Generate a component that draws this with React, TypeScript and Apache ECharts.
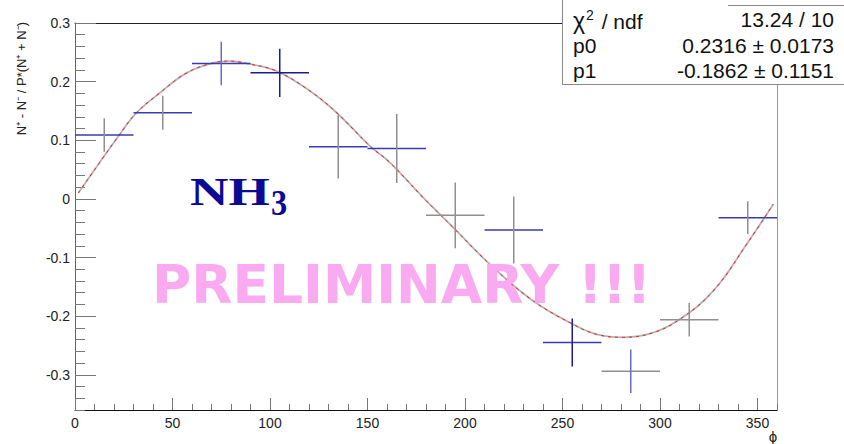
import React, { useEffect, useRef } from 'react';
import * as echarts from 'echarts';

// ---- data ----
const PHI = [15, 45, 75, 105, 135, 165, 195, 225, 255, 285, 315, 345];
const ASYM = [0.109, 0.147, 0.231, 0.215, 0.089, 0.086, -0.028, -0.053, -0.245, -0.294, -0.206, -0.032];
const ASYM_ERR = [0.0285, 0.029, 0.037, 0.041, 0.054, 0.059, 0.056, 0.057, 0.041, 0.037, 0.0286, 0.028];
const BIN_HALF_WIDTH = 15;

const FIT_PHI = [1.7, 22.7, 31.6, 43.6, 57.3, 70.9, 79.5, 88, 103.4, 120.5, 134.2, 151.3, 161.5, 178.6, 194, 214.5, 235, 255.5, 267.5, 281.2, 296.6, 310.3, 327.3, 344.5, 358.1];
const FIT_VAL = [0.010, 0.109, 0.147, 0.181, 0.215, 0.232, 0.235, 0.231, 0.218, 0.184, 0.147, 0.090, 0.062, 0.002, -0.049, -0.117, -0.174, -0.214, -0.231, -0.236, -0.228, -0.205, -0.157, -0.077, -0.009];

const X_MAJOR = [0, 50, 100, 150, 200, 250, 300, 350];
const X_MINOR = [10, 20, 30, 40, 60, 70, 80, 90, 110, 120, 130, 140, 160, 170, 180, 190, 210, 220, 230, 240, 260, 270, 280, 290, 310, 320, 330, 340, 360];
const Y_MAJOR = [-0.3, -0.2, -0.1, 0, 0.1, 0.2, 0.3];
const Y_MINOR = [-0.36, -0.34, -0.32, -0.28, -0.26, -0.24, -0.22, -0.18, -0.16, -0.14, -0.12, -0.08, -0.06, -0.04, -0.02, 0.02, 0.04, 0.06, 0.08, 0.12, 0.14, 0.16, 0.18, 0.22, 0.24, 0.26, 0.28];

const STAT_LABELS = ['{c|χ}{s|2}{t| / ndf}', 'p0', 'p1'];
const STAT_VALUES = ['13.24 / 10', '0.2316 ± 0.0173', '-0.1862 ± 0.1151'];

// ---- styles ----
const B = '#3a3ab4';
const N = '#1c1c8e';
const G = '#8f8f8f';
const LB = '#6a6ac8';
const H_COLORS = [B, B, B, N, B, B, G, B, B, G, G, B];
const V_COLORS = [G, G, LB, N, G, G, G, G, N, LB, G, G];
const SANS = 'Liberation Sans, Arial, sans-serif';

export default function App() {
  const ref = useRef<HTMLDivElement>(null);
  useEffect(() => {
    const chart = echarts.init(ref.current!, undefined, { renderer: 'svg' });
    const errData = PHI.map((p, i) => [p, ASYM[i], ASYM_ERR[i]]);
    const fitData = FIT_PHI.map((p, i) => [p, FIT_VAL[i]]);
    const statRowsY = [19, 45, 70];
    const statFont = { fontSize: 21, fontFamily: SANS, fill: '#111' };
    const option: any = {
      animation: false,
      backgroundColor: '#ffffff',
      grid: { left: 75, right: 67, top: 23, bottom: 34, outerBoundsMode: 'none', containLabel: false },
      xAxis: [
        {
          type: 'value', min: 0, max: 360, position: 'bottom',
          axisLine: { show: true, onZero: false, lineStyle: { color: '#111', width: 1 } },
          axisTick: { show: true, inside: true, length: 12, customValues: X_MAJOR, lineStyle: { color: '#777' } },
          axisLabel: { show: true, customValues: X_MAJOR, margin: 6, fontSize: 14, color: '#222', fontFamily: SANS },
          splitLine: { show: false },
        },
        {
          type: 'value', min: 0, max: 360, position: 'bottom',
          axisLine: { show: false, onZero: false },
          axisTick: { show: true, inside: true, length: 6, customValues: X_MINOR, lineStyle: { color: '#777' } },
          axisLabel: { show: false },
          splitLine: { show: false },
        },
        {
          type: 'value', min: 0, max: 360, position: 'top',
          axisLine: { show: true, onZero: false, lineStyle: { color: '#222', width: 1 } },
          axisTick: { show: false }, axisLabel: { show: false }, splitLine: { show: false },
        },
      ],
      yAxis: [
        {
          type: 'value', min: -0.36, max: 0.3, position: 'left',
          axisLine: { show: true, onZero: false, lineStyle: { color: '#666', width: 1 } },
          axisTick: { show: true, inside: true, length: 21, customValues: Y_MAJOR, lineStyle: { color: '#777' } },
          axisLabel: {
            show: true, customValues: Y_MAJOR, margin: 5, fontSize: 14, color: '#222', fontFamily: SANS,
            formatter: (v: number) => { const r = Math.round(v * 10) / 10; return r === 0 ? '0' : String(r); },
          },
          splitLine: { show: false },
        },
        {
          type: 'value', min: -0.36, max: 0.3, position: 'left',
          axisLine: { show: false, onZero: false },
          axisTick: { show: true, inside: true, length: 10, customValues: Y_MINOR, lineStyle: { color: '#777' } },
          axisLabel: { show: false }, splitLine: { show: false },
        },
        {
          type: 'value', min: -0.36, max: 0.3, position: 'right',
          axisLine: { show: true, onZero: false, lineStyle: { color: '#999', width: 1 } },
          axisTick: { show: false }, axisLabel: { show: false }, splitLine: { show: false },
        },
      ],
      series: [
        {
          type: 'line', data: fitData, smooth: 0.4, showSymbol: false, xAxisIndex: 0, yAxisIndex: 0,
          lineStyle: { color: '#b4b4b4', width: 1.8 }, z: 2, silent: true,
        },
        {
          type: 'line', data: fitData, smooth: 0.4, showSymbol: false, xAxisIndex: 0, yAxisIndex: 0,
          lineStyle: { color: '#ff1a1a', width: 1, type: [3, 4] }, z: 3, silent: true,
        },
        {
          type: 'custom', xAxisIndex: 0, yAxisIndex: 0, data: errData, encode: { x: 0, y: 1 }, z: 4, silent: true,
          renderItem: (params: any, api: any) => {
            const x = api.value(0), y = api.value(1), e = api.value(2);
            const l = api.coord([x - BIN_HALF_WIDTH, y]);
            const r = api.coord([x + BIN_HALF_WIDTH, y]);
            const t = api.coord([x, y + e]);
            const b = api.coord([x, y - e]);
            const i = params.dataIndex;
            return {
              type: 'group',
              children: [
                { type: 'line', shape: { x1: l[0], y1: l[1], x2: r[0], y2: r[1] }, style: { stroke: H_COLORS[i], lineWidth: 1.5 } },
                { type: 'line', shape: { x1: t[0], y1: t[1], x2: b[0], y2: b[1] }, style: { stroke: V_COLORS[i], lineWidth: 1.5 } },
              ],
            };
          },
        },
      ],
      graphic: [
        // stats box
        { type: 'rect', z: 100, shape: { x: 562, y: 0, width: 290, height: 85 }, style: { fill: '#fff', stroke: null } },
        { type: 'line', z: 101, shape: { x1: 562.5, y1: 0, x2: 562.5, y2: 85 }, style: { stroke: '#8a8a8a', lineWidth: 1 } },
        { type: 'line', z: 101, shape: { x1: 562, y1: 84.5, x2: 844, y2: 84.5 }, style: { stroke: '#8a8a8a', lineWidth: 1 } },
        { type: 'line', z: 101, shape: { x1: 728, y1: 5.5, x2: 844, y2: 5.5 }, style: { stroke: '#8a8a8a', lineWidth: 1 } },
        ...STAT_LABELS.map((s, i) => ({
          type: 'text', z: 102, x: 573, y: statRowsY[i],
          style: {
            text: s, ...statFont, align: 'left', verticalAlign: 'middle',
            rich: {
              c: { fontSize: 23, fontFamily: SANS, fill: '#111', verticalAlign: 'bottom', lineHeight: 24 },
              s: { fontSize: 14, fontFamily: SANS, fill: '#111', verticalAlign: 'top', lineHeight: 26, padding: [2, 2, 0, 1] },
              t: { fontSize: 21, fontFamily: SANS, fill: '#111', verticalAlign: 'bottom', lineHeight: 24 },
            },
          },
        })),
        ...STAT_VALUES.map((s, i) => ({
          type: 'text', z: 102, x: 834, y: statRowsY[i],
          style: { text: s, ...statFont, align: 'right', verticalAlign: 'middle' },
        })),
        // axis titles
        {
          type: 'text', z: 50, x: 21, y: 22, rotation: Math.PI / 2,
          style: { text: 'N⁺ - N⁻ / P*(N⁺ + N⁻)', fontSize: 13, fontFamily: SANS, fill: '#222', align: 'right', verticalAlign: 'middle' },
        },
        {
          type: 'text', z: 50, x: 773, y: 436,
          style: { text: 'ϕ', fontSize: 15, fontFamily: SANS, fill: '#222', align: 'center', verticalAlign: 'middle' },
        },
        // annotations
        {
          type: 'text', z: 60, x: 190, y: 191, scaleX: 1.33,
          style: { text: 'NH', fontSize: 40, fontWeight: 'bold', fontFamily: 'Liberation Serif, serif', fill: '#0a0a96', align: 'left', verticalAlign: 'middle' },
        },
        {
          type: 'text', z: 60, x: 271, y: 202, scaleX: 0.9,
          style: { text: '3', fontSize: 36, fontWeight: 'bold', fontFamily: 'Liberation Serif, serif', fill: '#0a0a96', align: 'left', verticalAlign: 'middle' },
        },
        {
          type: 'text', z: 60, x: 152, y: 284,
          style: { text: 'PRELIMINARY !!!', fontSize: 53.5, fontWeight: 'bold', fontFamily: 'DejaVu Sans, Verdana, sans-serif', fill: '#f9aaf0', align: 'left', verticalAlign: 'middle' },
        },
      ],
    };
    chart.setOption(option);
    return () => chart.dispose();
  }, []);
  return <div ref={ref} style={{ position: 'fixed', left: 0, top: 0, width: 844, height: 444 }} />;
}
